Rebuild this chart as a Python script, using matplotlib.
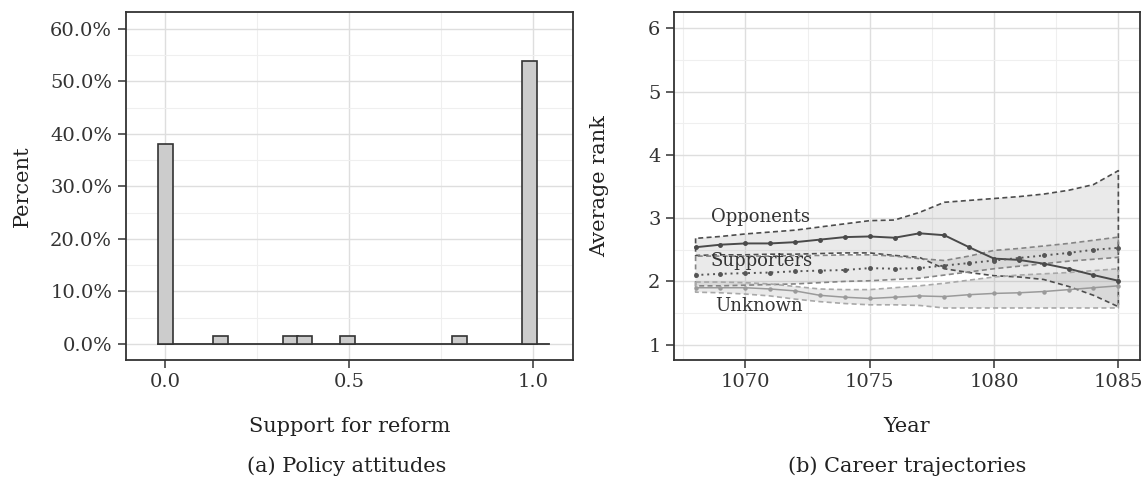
import numpy as np
import matplotlib
matplotlib.use("Agg")
from matplotlib import pyplot as plt
from matplotlib.ticker import MultipleLocator, PercentFormatter

plt.rcParams['font.family'] = ['DejaVu Serif', 'Liberation Serif']
plt.rcParams['font.size'] = 13

# --- panel (a): support for reform, share of respondents per bin ---
support_x = [0.0, 0.15, 0.34, 0.38, 0.495, 0.80, 0.99]
support_pct = [38.1, 1.6, 1.6, 1.6, 1.6, 1.6, 54.0]
bin_width = 0.041
bin_range = (-0.0205, 1.043)

# --- panel (b): average rank by year, with bands ---
years = list(range(1068, 1086))

opp_mean = [2.54, 2.58, 2.60, 2.60, 2.62, 2.66, 2.70, 2.71, 2.69,
            2.76, 2.73, 2.54, 2.36, 2.34, 2.28, 2.20, 2.10, 2.01]
opp_hi = [2.68, 2.71, 2.75, 2.78, 2.81, 2.86, 2.91, 2.96, 2.97,
          3.09, 3.25, 3.28, 3.31, 3.34, 3.38, 3.44, 3.53, 3.75]
opp_lo = [2.41, 2.42, 2.42, 2.43, 2.43, 2.44, 2.45, 2.45, 2.41,
          2.38, 2.20, 2.14, 2.09, 2.07, 2.03, 1.92, 1.78, 1.60]

sup_mean = [2.10, 2.12, 2.13, 2.14, 2.16, 2.17, 2.18, 2.21, 2.20,
            2.21, 2.25, 2.29, 2.33, 2.37, 2.41, 2.45, 2.50, 2.53]
sup_hi = [2.40, 2.40, 2.40, 2.40, 2.41, 2.41, 2.42, 2.42, 2.40,
          2.36, 2.33, 2.40, 2.49, 2.52, 2.56, 2.60, 2.65, 2.70]
sup_lo = [1.93, 1.93, 1.94, 1.95, 1.96, 1.98, 2.00, 2.01, 2.03,
          2.05, 2.10, 2.15, 2.20, 2.24, 2.28, 2.32, 2.35, 2.38]

unk_mean = [1.90, 1.90, 1.90, 1.88, 1.85, 1.78, 1.75, 1.73, 1.75,
            1.77, 1.76, 1.79, 1.81, 1.82, 1.84, 1.87, 1.90, 1.93]
unk_hi = [1.99, 1.99, 1.98, 1.96, 1.92, 1.88, 1.87, 1.87, 1.90,
          1.93, 1.97, 2.02, 2.07, 2.10, 2.12, 2.14, 2.17, 2.20]
unk_lo = [1.83, 1.82, 1.80, 1.77, 1.72, 1.68, 1.65, 1.63, 1.63,
          1.62, 1.58, 1.58, 1.58, 1.58, 1.58, 1.58, 1.58, 1.58]

group_labels = ['Opponents', 'Supporters', 'Unknown']
label_pos = [(1068.6, 3.02), (1068.6, 2.33), (1068.8, 1.61)]


def style_axes(ax):
    ax.set_facecolor('white')
    for s in ax.spines.values():
        s.set_color('#333333')
        s.set_linewidth(1.3)
    ax.grid(True, which='major', color='#dedede', linewidth=1.0)
    ax.grid(True, which='minor', color='#efefef', linewidth=0.8)
    ax.set_axisbelow(True)
    ax.tick_params(which='major', direction='out', length=6, width=1.1,
                   color='#333333', labelcolor='#333333', labelsize=14, pad=4)
    ax.tick_params(axis='x', which='major', pad=3)
    ax.tick_params(which='minor', length=0)


fig = plt.figure(figsize=(11.48, 4.91), dpi=100)

# panel (a)
ax1 = fig.add_axes([0.1098, 0.2658, 0.3895, 0.7088])
style_axes(ax1)
ax1.plot(bin_range, [0, 0], color='#333333', linewidth=1.3, zorder=2)
ax1.bar(support_x, support_pct, width=bin_width, color='#cccccc',
        edgecolor='#333333', linewidth=1.2, zorder=3)
ax1.set_xlim(-0.106, 1.109)
ax1.set_ylim(-3.15, 63.15)
ax1.xaxis.set_major_locator(MultipleLocator(0.5))
ax1.xaxis.set_minor_locator(MultipleLocator(0.25))
ax1.yaxis.set_major_locator(MultipleLocator(10))
ax1.yaxis.set_minor_locator(MultipleLocator(5))
ax1.xaxis.set_major_formatter(lambda v, p: f'{v:.1f}')
ax1.yaxis.set_major_formatter(PercentFormatter(decimals=1))
ax1.set_xlabel('Support for reform', fontsize=15, color='#222222', labelpad=19)
ax1.set_ylabel('Percent', fontsize=15, color='#222222', labelpad=13)

# panel (b)
ax2 = fig.add_axes([0.5875, 0.2658, 0.4051, 0.7088])
style_axes(ax2)

bands = [(opp_lo, opp_hi, '#4d4d4d'), (sup_lo, sup_hi, '#858585'),
         (unk_lo, unk_hi, '#a8a8a8')]
for lo, hi, ec in bands:
    ax2.fill_between(years, lo, hi, facecolor='#999999', alpha=0.2,
                     edgecolor='none', zorder=2)
    ax2.fill_between(years, lo, hi, facecolor='none', edgecolor=ec,
                     linewidth=1.2, linestyle=(0, (3, 2)), zorder=3)

ax2.plot(years, opp_mean, color='#4a4a4a', linewidth=1.4, marker='o',
         markersize=2.5, zorder=4)
ax2.plot(years, sup_mean, color='#555555', linewidth=1.4, linestyle=(0, (1, 2)),
         marker='o', markersize=2.5, zorder=4)
ax2.plot(years, unk_mean, color='#9a9a9a', linewidth=1.1, marker='o',
         markersize=2.2, zorder=4)

for name, (lx, ly) in zip(group_labels, label_pos):
    ax2.text(lx, ly, name, fontsize=13, color='#333333', va='center',
             ha='left', zorder=5)

ax2.set_xlim(1067.15, 1085.85)
ax2.set_ylim(0.75, 6.25)
ax2.xaxis.set_major_locator(MultipleLocator(5))
ax2.xaxis.set_minor_locator(MultipleLocator(2.5))
ax2.yaxis.set_major_locator(MultipleLocator(1))
ax2.yaxis.set_minor_locator(MultipleLocator(0.5))
ax2.set_xlabel('Year', fontsize=15, color='#222222', labelpad=19)
ax2.set_ylabel('Average rank', fontsize=15, color='#222222', labelpad=28)

fig.text(0.302, 0.051, '(a) Policy attitudes', ha='center', va='center',
         fontsize=15, color='#222222')
fig.text(0.790, 0.051, '(b) Career trajectories', ha='center', va='center',
         fontsize=15, color='#222222')

fig.savefig('out.png', dpi=100)
